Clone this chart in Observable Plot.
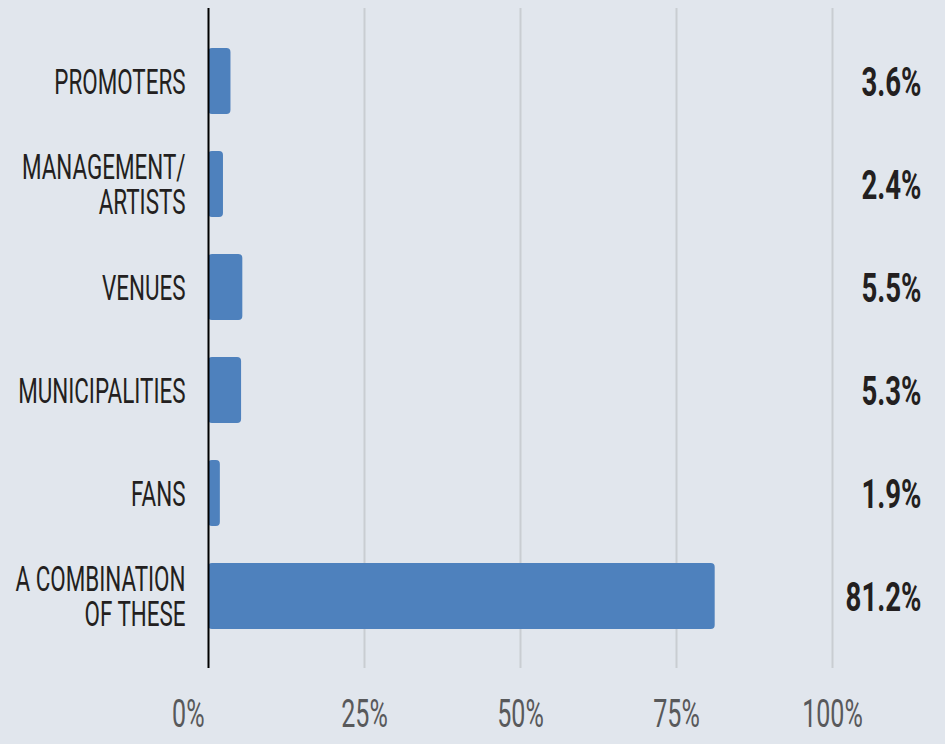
<!DOCTYPE html>
<html><head><meta charset="utf-8">
<script src="https://cdn.jsdelivr.net/npm/d3@7"></script>
<script src="https://cdn.jsdelivr.net/npm/@observablehq/plot@0.6"></script>
<style>
html,body{margin:0;padding:0;background:#e1e6ed;}
</style></head><body><div id="chart"></div>
<script>
const categories = ["PROMOTERS","MANAGEMENT/\nARTISTS","VENUES","MUNICIPALITIES","FANS","A COMBINATION\nOF THESE"];
const values = [3.6, 2.4, 5.5, 5.3, 1.9, 81.2];
const valueLabels = ["3.6%","2.4%","5.5%","5.3%","1.9%","81.2%"];
const xTicks = [0, 25, 50, 75, 100];
const xTickLabels = ["0%","25%","50%","75%","100%"];

const data = categories.map((c, i) => ({category: c, value: values[i], label: valueLabels[i]}));
const ticks = xTicks.map((t, i) => ({t, label: xTickLabels[i]}));

const chart = Plot.plot({
  width: 945, height: 744,
  marginLeft: 208, marginRight: 113, marginTop: 8, marginBottom: 76,
  style: {background: "#e1e6ed", fontFamily: "Roboto", overflow: "visible"},
  x: {domain: [0, 100], axis: null},
  y: {domain: categories, paddingInner: 0.363, paddingOuter: 0.367, axis: null},
  marks: [
    Plot.ruleX(xTicks.filter(d => d > 0), {stroke: "#c9cdd2", strokeWidth: 2}),
    Plot.barX(data, {y: "category", x: "value", fill: "#4e81bd", rx: 4}),
    Plot.ruleX([0], {stroke: "#000", strokeWidth: 2}),
    Plot.text(data, {y: "category", text: "category", frameAnchor: "left", textAnchor: "end", dx: -23, dy: 1, fontSize: 35, fill: "#231f20", lineHeight: 1.0}),
    Plot.text(data, {y: "category", text: "label", frameAnchor: "right", textAnchor: "end", dx: 89, dy: 2, fontSize: 40, fontWeight: "bold", fill: "#231f20"}),
    Plot.text(ticks.slice(0, 1), {x: "t", text: "label", frameAnchor: "bottom", textAnchor: "end", dx: -4, dy: 58, fontSize: 38, fill: "#58595b"}),
    Plot.text(ticks.slice(1), {x: "t", text: "label", frameAnchor: "bottom", textAnchor: "middle", dy: 58, fontSize: 38, fill: "#58595b"})
  ]
});

// condense the text horizontally (reference uses a condensed typeface)
const factors = [0.64, 0.69, 0.66, 0.66];
chart.querySelectorAll('g[aria-label="text"]').forEach((g, gi) => {
  const f = factors[gi];
  g.querySelectorAll("text").forEach(t => {
    const tr = t.getAttribute("transform") || "";
    t.setAttribute("transform", tr + ` scale(${f},1)`);
  });
});
document.getElementById("chart").appendChild(chart);
</script>
</body></html>
